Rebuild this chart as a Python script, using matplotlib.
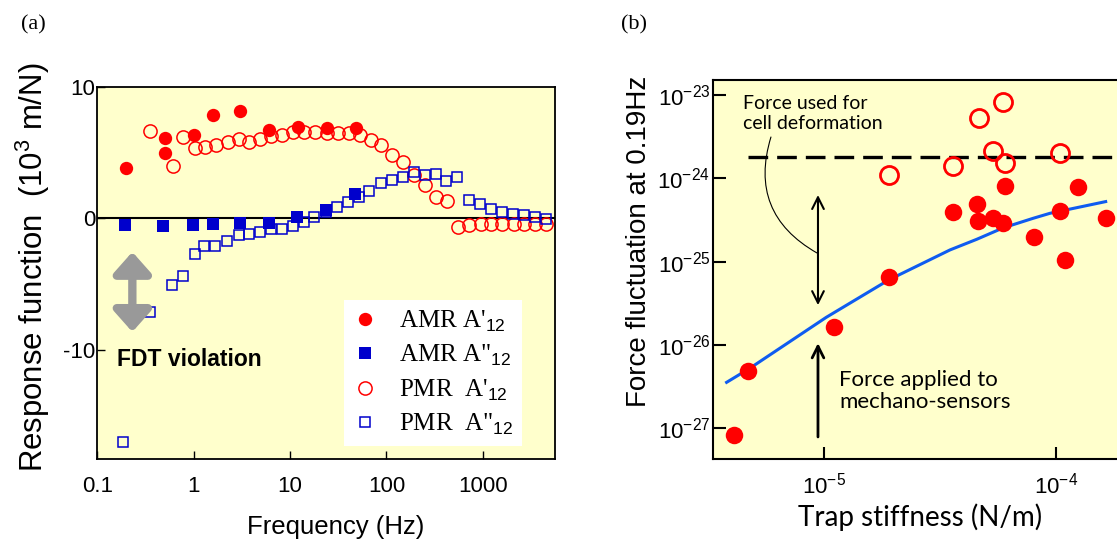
import numpy as np
import matplotlib
matplotlib.use('Agg')
import matplotlib.pyplot as plt
from matplotlib.lines import Line2D
from matplotlib.ticker import FixedLocator, FixedFormatter, NullLocator, LogFormatterMathtext

plt.rcParams['font.family'] = ['Liberation Sans', 'DejaVu Sans']
plt.rcParams['mathtext.fontset'] = 'custom'
plt.rcParams['mathtext.rm'] = 'Liberation Sans'
plt.rcParams['mathtext.it'] = 'Liberation Sans'
plt.rcParams['mathtext.bf'] = 'Liberation Sans:bold'
plt.rcParams['mathtext.default'] = 'rm'

# ---------------- Panel (a) data: response function vs frequency ----------------
amr_re_f = [0.199, 0.50, 0.50, 1.0, 1.58, 3.03, 6.0, 12.0, 24.0, 48.5]
amr_re = [3.79, 6.08, 4.94, 6.34, 7.86, 8.19, 6.72, 6.97, 6.85, 6.85]

amr_im_f = [0.195, 0.485, 0.98, 1.58, 3.0, 6.0, 11.9, 23.7, 47.0]
amr_im = [-0.53, -0.59, -0.53, -0.46, -0.36, -0.36, 0.10, 0.61, 1.83]

pmr_re_f = [0.35, 0.605, 0.78, 1.02, 1.32, 1.71, 2.25, 2.93, 3.79, 4.89, 6.36, 8.28,
            10.8, 14.1, 18.3, 24.0, 31.3, 40.7, 52.6, 68.3, 88.0, 114, 147, 192, 252,
            328, 425, 552, 718, 945, 1220, 1590, 2090, 2700, 3510, 4550]
pmr_re = [6.66, 3.99, 6.16, 5.32, 5.40, 5.57, 5.82, 6.00, 5.82, 6.00, 6.26, 6.34,
          6.59, 6.59, 6.59, 6.51, 6.51, 6.46, 6.34, 5.95, 5.57, 4.81, 4.30, 3.28, 2.52,
          1.63, 1.32, -0.66, -0.53, -0.46, -0.46, -0.46, -0.41, -0.46, -0.46, -0.46]

pmr_im_f = [0.183, 0.352, 0.59, 0.77, 1.02, 1.29, 1.68, 2.2, 2.93, 3.79, 4.89, 6.36,
            8.28, 10.6, 13.8, 17.9, 23.3, 30.5, 39.7, 51.6, 66.6, 88, 114, 147, 192,
            252, 323, 417, 541, 718, 925, 1200, 1570, 2040, 2660, 3480, 4550]
pmr_im = [-17.0, -7.15, -5.1, -4.4, -2.75, -2.14, -2.14, -1.73, -1.30, -1.17, -1.05, -0.79,
          -0.79, -0.61, -0.28, 0.10, 0.45, 0.86, 1.24, 1.63, 2.08, 2.69, 2.90, 3.10, 3.53,
          3.28, 3.36, 2.85, 3.10, 1.37, 1.07, 0.74, 0.48, 0.36, 0.23, 0.10, -0.02]

freq_ticks = [0.1, 1, 10, 100, 1000]
freq_labels = ['0.1', '1', '10', '100', '1000']
resp_ticks = [-10, 0, 10]
resp_labels = ['-10', '0', '10']

legend_labels = ["AMR A'$_{12}$", 'AMR A"$_{12}$', "PMR  A'$_{12}$", 'PMR  A"$_{12}$']

# ---------------- Panel (b) data: force fluctuation vs trap stiffness ----------------
amr_k = [4.09e-6, 4.67e-6, 1.1e-5, 1.9e-5, 3.6e-5, 4.55e-5, 4.6e-5, 5.36e-5, 5.93e-5,
         6.03e-5, 8.06e-5, 1.04e-4, 1.1e-4, 1.24e-4, 1.64e-4]
amr_force = [8.3e-28, 4.8e-27, 1.66e-26, 6.5e-26, 3.9e-25, 4.9e-25, 3.1e-25, 3.3e-25,
             2.88e-25, 8.15e-25, 2.0e-25, 4.05e-25, 1.05e-25, 7.9e-25, 3.38e-25]

pmr_k = [1.9e-5, 3.58e-5, 4.67e-5, 5.89e-5, 5.33e-5, 6.03e-5, 1.04e-4]
pmr_force = [1.1e-24, 1.4e-24, 5.25e-24, 8.3e-24, 2.14e-24, 1.54e-24, 2.0e-24]

curve_k = [3.79e-6, 4.78e-6, 1.02e-5, 1.9e-5, 3.49e-5, 4.55e-5, 5.92e-5, 7.98e-5,
           9.43e-5, 1.64e-4]
curve_force = [3.55e-27, 5.25e-27, 2.14e-26, 6.03e-26, 1.38e-25, 1.85e-25, 2.54e-25,
               3.31e-25, 3.8e-25, 5.25e-25]

deform_force = 1.8e-24

stiff_ticks = [1e-5, 1e-4]
force_ticks = [1e-27, 1e-26, 1e-25, 1e-24, 1e-23]

# ---------------- Figure ----------------
W, H = 1117, 544
fig = plt.figure(figsize=(W / 100, H / 100), dpi=100)
bg = '#FFFFCC'
red = '#FF0000'
blue = '#0000CC'

def px_axes(l, t, r, b):
    return [l / W, 1 - b / H, (r - l) / W, (b - t) / H]

# ===== Panel (a) =====
ax1 = fig.add_axes(px_axes(97.3, 86.7, 555, 459))
ax1.set_facecolor(bg)
ax1.set_xscale('log')
ax1.set_xlim(0.1, 5600)
ax1.set_ylim(-18.3, 10)
ax1.axhline(0, color='black', lw=1.5, zorder=1)

ax1.plot(pmr_re_f, pmr_re, 'o', ms=9.5, mfc='none', mec=red, mew=1.1, zorder=3)
ax1.plot(pmr_im_f, pmr_im, 's', ms=6.8, mfc='none', mec=blue, mew=1.1, zorder=3)
ax1.plot(amr_re_f, amr_re, 'o', ms=9.6, mfc=red, mec=red, mew=0, zorder=4)
ax1.plot(amr_im_f, amr_im, 's', ms=8.9, mfc=blue, mec=blue, mew=0, zorder=4)

ax1.xaxis.set_major_locator(FixedLocator(freq_ticks))
ax1.xaxis.set_major_formatter(FixedFormatter(freq_labels))
ax1.xaxis.set_minor_locator(NullLocator())
ax1.yaxis.set_major_locator(FixedLocator(resp_ticks))
ax1.yaxis.set_major_formatter(FixedFormatter(resp_labels))
ax1.tick_params(axis='x', direction='in', length=5.5, width=1, labelsize=16, pad=12)
ax1.tick_params(axis='y', direction='in', length=5.5, width=1, labelsize=16, pad=1.5)
for s in ax1.spines.values():
    s.set_linewidth(1.3)

ax1.set_xlabel('Frequency (Hz)', fontsize=18.5)
ax1.xaxis.set_label_coords(0.52, -0.15)
ax1.set_ylabel('Response function  (10$^{3}$ m/N)', fontsize=22.4)
ax1.yaxis.set_label_coords(-0.099, 0.514)

# FDT violation arrow + text
ax1.annotate('', xy=(0.231, -2.56), xytext=(0.231, -8.64),
             arrowprops=dict(arrowstyle='<|-|>,head_length=0.9,head_width=0.8', color='#999999',
                             lw=6, mutation_scale=14, shrinkA=0, shrinkB=0))
ax1.text(0.161, -10.77, 'FDT violation', fontsize=16.5, fontweight='bold', va='center', ha='left')

handles = [
    Line2D([], [], ls='none', marker='o', ms=9.6, mfc=red, mec=red, mew=0),
    Line2D([], [], ls='none', marker='s', ms=8.9, mfc=blue, mec=blue, mew=0),
    Line2D([], [], ls='none', marker='o', ms=9.5, mfc='none', mec=red, mew=1.1),
    Line2D([], [], ls='none', marker='s', ms=6.8, mfc='none', mec=blue, mew=1.1),
]
leg = ax1.legend(handles, legend_labels, loc='upper left', bbox_to_anchor=(0.539, 0.427),
                 borderaxespad=0, frameon=True, fancybox=False, framealpha=1,
                 facecolor='white', edgecolor='none', handlelength=1.0, handletextpad=0.85,
                 labelspacing=0.37, borderpad=0.35,
                 prop={'family': 'Liberation Serif', 'size': 18})

fig.text(21 / W, 1 - 25 / H, '(a)', fontsize=16, family='Liberation Serif', va='center', ha='left')
fig.text(621 / W, 1 - 25 / H, '(b)', fontsize=16, family='Liberation Serif', va='center', ha='left')

# ===== Panel (b) =====
ax2 = fig.add_axes(px_axes(713, 80, 1140, 459))
ax2.set_facecolor(bg)
ax2.set_xscale('log')
ax2.set_yscale('log')
ax2.set_xlim(10 ** -5.480, 10 ** -3.637)
ax2.set_ylim(10 ** -27.37, 10 ** -22.82)
ax2.spines['right'].set_visible(False)
for s in ax2.spines.values():
    s.set_linewidth(1.5)

ax2.axhline(deform_force, xmin=0.082, xmax=1, color='black', lw=2.4, dashes=(5.9, 2.7), zorder=2)
ax2.plot(curve_k, curve_force, '-', color='#0F5CF0', lw=2.2, zorder=3)
ax2.plot(amr_k, amr_force, 'o', ms=12.6, mfc=red, mec=red, mew=0, zorder=4)
ax2.plot(pmr_k, pmr_force, 'o', ms=13, mfc='none', mec=red, mew=2, zorder=4)

ax2.xaxis.set_major_locator(FixedLocator(stiff_ticks))
ax2.yaxis.set_major_locator(FixedLocator(force_ticks))
ax2.xaxis.set_major_formatter(LogFormatterMathtext())
ax2.yaxis.set_major_formatter(LogFormatterMathtext())
ax2.xaxis.set_minor_locator(NullLocator())
ax2.yaxis.set_minor_locator(NullLocator())
ax2.tick_params(axis='x', direction='in', length=9, width=1.5, labelsize=16, pad=10)
ax2.tick_params(axis='y', direction='in', length=9, width=1.5, labelsize=16, pad=2)

ax2.set_xlabel('Trap stiffness (N/m)', fontsize=20, family='Lato')
ax2.xaxis.set_label_coords(0.485, -0.118)
ax2.set_ylabel('Force fluctuation at 0.19Hz', fontsize=20)
ax2.yaxis.set_label_coords(-0.143, 0.573)

# annotations
ax2.text(4.45e-6, 1.0e-23, 'Force used for\ncell deformation', fontsize=14, family='Lato',
         va='top', ha='left', linespacing=1.2)
ax2.annotate('', xy=(9.3e-6, 1.27e-25), xytext=(5.89e-6, 3.13e-24),
             arrowprops=dict(arrowstyle='-', connectionstyle='arc3,rad=0.4', lw=0.8,
                             color='black', shrinkA=0, shrinkB=0))
ax2.annotate('', xy=(9.4e-6, 6.3e-25), xytext=(9.4e-6, 3.0e-26),
             arrowprops=dict(arrowstyle='<->,head_length=0.6,head_width=0.3', lw=1.5,
                             color='black', mutation_scale=14, shrinkA=0, shrinkB=0))
ax2.annotate('', xy=(9.4e-6, 1.05e-26), xytext=(9.4e-6, 7.85e-28),
             arrowprops=dict(arrowstyle='->,head_length=0.6,head_width=0.3', lw=2,
                             color='black', mutation_scale=14, shrinkA=0, shrinkB=0))
ax2.text(1.16e-5, 5.0e-27, 'Force applied to\nmechano-sensors', fontsize=16, family='Lato',
         va='top', ha='left', linespacing=1.12)

fig.savefig('out.png', dpi=100)
